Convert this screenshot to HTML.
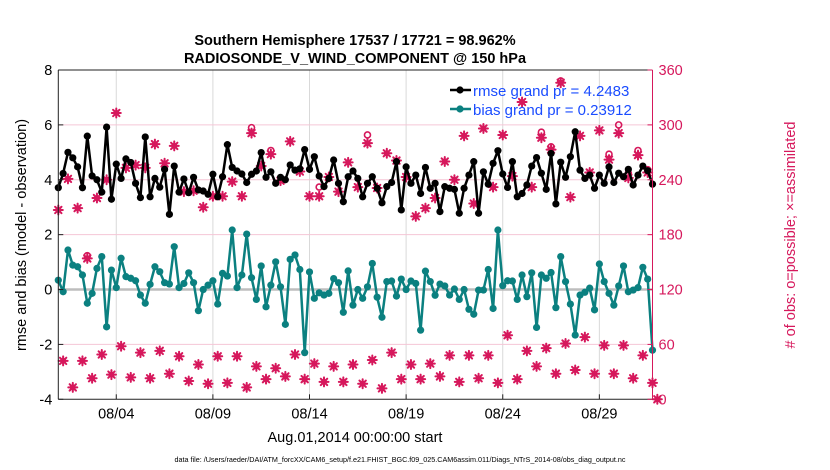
<!DOCTYPE html>
<html><head><meta charset="utf-8"><style>
body{margin:0;background:#fff;}
svg{display:block;font-family:"Liberation Sans",Arial,sans-serif;}
</style></head><body>
<svg id="chart" width="830" height="470" viewBox="0 0 830 470" xmlns="http://www.w3.org/2000/svg">
<g id="grid"></g>
<g id="series"></g>
<g id="axes"></g>
<text x="355" y="45" text-anchor="middle" font-size="14.5" font-weight="bold">Southern Hemisphere 17537 / 17721 = 98.962%</text>
<text x="355" y="63" text-anchor="middle" font-size="14.5" font-weight="bold">RADIOSONDE_V_WIND_COMPONENT @ 150 hPa</text>
<text transform="translate(26,235) rotate(-90)" text-anchor="middle" font-size="14.5">rmse and bias (model - observation)</text>
<text transform="translate(795,235) rotate(-90)" text-anchor="middle" font-size="14.5" fill="#d6185c"># of obs: o=possible; ×=assimilated</text>
<text x="355" y="442" text-anchor="middle" font-size="14.5">Aug.01,2014 00:00:00 start</text>
<text x="400" y="462" text-anchor="middle" font-size="7.2">data file: /Users/raeder/DAI/ATM_forcXX/CAM6_setup/f.e21.FHIST_BGC.f09_025.CAM6assim.011/Diags_NTrS_2014-08/obs_diag_output.nc</text>
<g>
<line x1="450" y1="90" x2="471" y2="90" stroke="#000" stroke-width="2.5"/>
<circle cx="460" cy="90" r="3.6" fill="#000"/>
<text x="473" y="96" font-size="15" fill="#1a4cff">rmse grand pr = 4.2483</text>
<line x1="450" y1="109" x2="471" y2="109" stroke="#0b8080" stroke-width="2.5"/>
<circle cx="460" cy="109" r="3.6" fill="#0b8080"/>
<text x="473" y="115" font-size="15" fill="#1a4cff">bias grand pr = 0.23912</text>
</g>
</svg>
<script>
const rmse=[3.71,4.23,5.0,4.8,4.47,3.71,5.59,4.14,4.0,3.55,
5.92,3.29,4.57,4.05,4.76,4.63,3.87,3.35,5.56,3.38,
4.05,3.73,4.38,2.74,4.5,3.55,4.03,3.53,4.09,3.63,
3.59,3.47,4.2,3.38,4.11,5.28,4.45,4.32,4.21,3.9,
4.2,4.32,4.99,4.09,4.29,3.87,4.09,4.0,4.54,4.35,
4.4,5.1,4.38,4.84,4.14,3.75,4.05,4.72,3.87,3.2,
4.11,4.32,4.05,3.38,3.87,4.11,3.69,3.16,3.75,3.9,
4.66,2.9,4.47,3.87,4.17,3.5,4.45,3.69,3.87,2.84,
3.75,3.69,3.65,2.78,3.69,4.17,4.66,2.78,4.29,3.84,
4.6,5.06,4.21,3.72,4.66,3.38,3.5,3.81,4.5,4.81,
4.24,3.65,4.96,3.12,4.64,4.09,4.84,5.75,4.35,4.05,
4.17,3.69,4.17,3.87,4.47,3.9,4.24,4.11,4.38,3.81,
4.17,4.5,4.33,3.84];
const bias=[0.34,-0.08,1.44,0.89,0.83,0.53,-0.5,-0.14,0.77,1.2,
-1.36,0.71,0.07,1.14,0.47,0.41,0.32,-0.2,-0.5,0.19,
0.83,0.65,0.25,0.2,1.56,0.07,0.22,0.61,0.25,-0.77,
0.0,0.16,0.32,-0.53,0.59,0.49,2.17,0.07,0.53,2.02,
0.43,-0.36,0.86,-0.63,0.16,1.01,0.1,-1.27,1.1,1.26,
0.73,-2.3,0.64,-0.32,-0.12,-0.2,-0.14,0.4,0.25,-0.83,
0.68,-0.57,0.0,-0.32,0.1,0.95,-0.28,-1.01,0.29,0.31,
-0.24,0.38,0.0,0.31,0.22,-1.48,0.67,0.29,-0.21,0.2,
0.13,-0.2,0.02,-0.36,0.0,-0.72,-0.9,-0.02,-0.02,0.73,
-0.69,2.17,0.14,0.32,0.31,-0.36,0.53,-0.26,0.61,-1.38,
0.53,0.41,0.62,-0.66,1.2,0.29,-0.53,-1.66,-0.2,-0.1,
0.05,-0.74,0.93,0.29,-0.14,-0.57,0.13,0.86,-0.08,-0.02,
0.07,0.81,0.38,-2.21];
const nUsed=[207,42,241,13,209,42,154,23,220,49,
240,27,313,58,253,24,256,51,253,23,
279,53,258,28,277,47,227,20,228,38,
210,17,222,47,222,18,238,47,222,13,
291,36,255,22,268,34,239,25,282,49,
249,22,222,39,222,19,243,36,227,19,
259,38,232,17,280,43,231,12,269,51,
261,22,243,38,200,22,209,39,220,25,
260,48,240,19,288,48,214,23,296,48,
232,18,289,70,244,22,325,53,232,36,
286,56,273,28,346,61,221,32,288,68,
248,28,294,59,262,28,291,59,242,23,
267,48,248,18,0];
const possibleIdx=[6,40,44,54,64,100,102,104,114,116,118,120,122];
const possibleVal=[157,297,272,232,289,292,276,348,268,300,247,272,251];
const leftTicks=[-4,-2,0,2,4,6,8];
const rightTicks=[0,60,120,180,240,300,360];
const dateTicks=[3,8,13,18,23,28];
const dateLabels=["08/04","08/09","08/14","08/19","08/24","08/29"];
const stepDays=0.25;

const X0=58.3,X1=652.5,Y0=399.3,Y1=70;
const xMax=30.75;
function xs(t){return X0+(t/xMax)*(X1-X0);}
function yl(v){return Y0-(v+4)/12*(Y0-Y1);}
function yr(c){return Y0-c/360*(Y0-Y1);}
const NS="http://www.w3.org/2000/svg";
function mk(tag,attrs,parent){const e=document.createElementNS(NS,tag);for(const k in attrs)e.setAttribute(k,attrs[k]);parent.appendChild(e);return e;}
const grid=document.getElementById('grid'),ser=document.getElementById('series'),ax=document.getElementById('axes');
const PINK="#d6185c";
dateTicks.forEach((d,i)=>{const l=mk('line',{x1:xs(d),x2:xs(d),y1:Y1,y2:Y0,stroke:'#d9d9d9','stroke-width':1},grid);

});
leftTicks.forEach(v=>{if(v===-4||v===8||v===0)return;const l=mk('line',{x1:X0,x2:X1,y1:yl(v),y2:yl(v),stroke:'#f5c6d6','stroke-width':1},grid);

});
const z=mk('line',{x1:X0,x2:X1,y1:yl(0),y2:yl(0),stroke:'#bdbdbd','stroke-width':2.5},grid);


function star(cx,cy,parent){const g=mk('g',{stroke:PINK,'stroke-width':2,'stroke-linecap':'round'},parent);
mk('circle',{cx:cx,cy:cy,r:3,fill:PINK,stroke:'none'},g);
const r=4.5;mk('line',{x1:cx-r,x2:cx+r,y1:cy,y2:cy},g);mk('line',{x1:cx,x2:cx,y1:cy-r,y2:cy+r},g);
mk('line',{x1:cx-3.2,x2:cx+3.2,y1:cy-3.2,y2:cy+3.2},g);mk('line',{x1:cx-3.2,x2:cx+3.2,y1:cy+3.2,y2:cy-3.2},g);return g;}
possibleIdx.forEach((idx,k)=>{const c=mk('circle',{cx:xs(idx*stepDays),cy:yr(possibleVal[k]),r:3,fill:'none',stroke:PINK,'stroke-width':1.6},ser);

});
nUsed.forEach((c,i)=>{const g=star(xs(i*stepDays),yr(c),ser);

});
function line(vals,color,name){const pts=vals.map((v,i)=>xs(i*stepDays).toFixed(1)+','+yl(v).toFixed(1)).join(' ');
const p=mk('polyline',{points:pts,fill:'none',stroke:color,'stroke-width':2.5,'stroke-linejoin':'round'},ser);


vals.forEach((v,i)=>{const c=mk('circle',{cx:xs(i*stepDays),cy:yl(v),r:3.6,fill:color},ser);

});}
line(bias,'#0b8080','bias');
line(rmse,'#000000','rmse');
mk('line',{x1:X0,x2:X1,y1:Y1,y2:Y1,stroke:'#222','stroke-width':1},ax);
mk('line',{x1:X0,x2:X1,y1:Y0,y2:Y0,stroke:'#222','stroke-width':1},ax);
mk('line',{x1:X0,x2:X0,y1:Y1,y2:Y0,stroke:'#222','stroke-width':1},ax);
mk('line',{x1:X1,x2:X1,y1:Y1,y2:Y0,stroke:PINK,'stroke-width':1},ax);
leftTicks.forEach(v=>{mk('line',{x1:X0,x2:X0+5,y1:yl(v),y2:yl(v),stroke:'#222'},ax);
const t=mk('text',{x:X0-6,y:yl(v)+5,'text-anchor':'end','font-size':14.5},ax);t.textContent=v;

});
rightTicks.forEach(v=>{mk('line',{x1:X1-5,x2:X1,y1:yr(v),y2:yr(v),stroke:PINK},ax);
const t=mk('text',{x:X1+6,y:yr(v)+5,'font-size':14.5,fill:PINK},ax);t.textContent=v;

});
dateTicks.forEach((d,i)=>{mk('line',{x1:xs(d),x2:xs(d),y1:Y0,y2:Y0-5,stroke:'#222'},ax);
const t=mk('text',{x:xs(d),y:Y0+19,'text-anchor':'middle','font-size':14.5},ax);t.textContent=dateLabels[i];

});
</script>
</body></html>
